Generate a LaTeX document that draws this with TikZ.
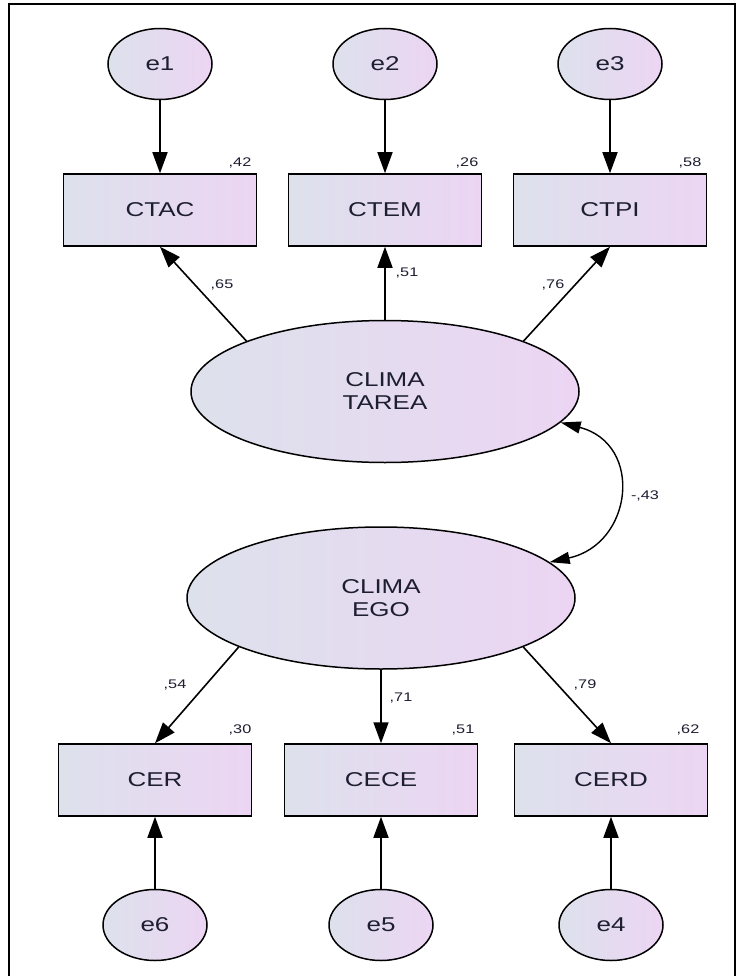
\documentclass[tikz,border=0pt]{standalone}
\usepackage{fontspec}
\setmainfont{Liberation Sans}
\usetikzlibrary{arrows.meta,shapes.geometric}
\definecolor{fillL}{RGB}{221,225,236}
\definecolor{fillR}{RGB}{236,213,243}
\definecolor{txt}{RGB}{30,30,50}
\newcommand{\sx}[1]{\scalebox{1.3}[1]{#1}}
\begin{document}
\begin{tikzpicture}[x=1pt,y=-1pt,
  base/.style={draw=black, line width=1.5pt, left color=fillL, right color=fillR, inner sep=0pt, text=txt, font=\fontsize{20}{23}\selectfont},
  errnode/.style={base, ellipse, minimum width=104pt, minimum height=71pt},
  obsbox/.style={base, rectangle, minimum width=193pt, minimum height=72pt},
  latent/.style={base, ellipse, minimum width=388pt, minimum height=142pt, align=center},
  conn/.style={line width=1.6pt, -{Triangle[length=21pt,width=15pt]}},
  cov/.style={line width=1.4pt, {Triangle[length=20pt,width=12pt]}-{Triangle[length=20pt,width=12pt]}},
  lab/.style={font=\fontsize{12.5}{14}\selectfont, text=txt, inner sep=1pt}
]
\useasboundingbox (0,0) rectangle (739,976);
\fill[white] (0,0) rectangle (739,976);
\draw[line width=2.2pt] (9,980) -- (9,4) -- (735,4) -- (735,980);

% error terms top
\node[errnode] (e1) at (160,64) {\sx{e1}};
\node[errnode] (e2) at (385,64) {\sx{e2}};
\node[errnode] (e3) at (610,64) {\sx{e3}};
% observed top
\node[obsbox] (ctac) at (160,210) {\sx{CTAC}};
\node[obsbox] (ctem) at (385,210) {\sx{CTEM}};
\node[obsbox] (ctpi) at (610,210) {\sx{CTPI}};
% latents
\node[latent] (tarea) at (385,391.5) {\sx{CLIMA}\\\sx{TAREA}};
\node[latent] (ego) at (381,598) {\sx{CLIMA}\\\sx{EGO}};
% observed bottom
\node[obsbox] (cer) at (155,780) {\sx{CER}};
\node[obsbox] (cece) at (381,780) {\sx{CECE}};
\node[obsbox] (cerd) at (611,780) {\sx{CERD}};
% error terms bottom
\node[errnode] (e6) at (155,925) {\sx{e6}};
\node[errnode] (e5) at (381,925) {\sx{e5}};
\node[errnode] (e4) at (611,925) {\sx{e4}};

% arrows errors -> indicators
\draw[conn] (e1) -- (ctac);
\draw[conn] (e2) -- (ctem);
\draw[conn] (e3) -- (ctpi);
\draw[conn] (e6) -- (cer);
\draw[conn] (e5) -- (cece);
\draw[conn] (e4) -- (cerd);

% loadings
\draw[conn] (tarea.160) -- (ctac.south);
\draw[conn] (tarea.north) -- (ctem.south);
\draw[conn] (tarea.20) -- (ctpi.south);
\draw[conn] (ego.-161) -- (cer.north);
\draw[conn] (ego.south) -- (cece.north);
\draw[conn] (ego.-19) -- (cerd.north);

% covariance
\draw[cov] (tarea.-10) .. controls (644,444) and (633,544) .. (ego.12);

% labels
\node[lab] (r1) at (240,163) {\sx{,42}};
\node[lab] (r2) at (467,163) {\sx{,26}};
\node[lab] (r3) at (690,163) {\sx{,58}};
\node[lab] (l1) at (222,285) {\sx{,65}};
\node[lab] (l2) at (407,273) {\sx{,51}};
\node[lab] (l3) at (553,285) {\sx{,76}};
\node[lab] (c1) at (645,496) {\sx{-,43}};
\node[lab] (l4) at (175,685) {\sx{,54}};
\node[lab] (l5) at (401,698) {\sx{,71}};
\node[lab] (l6) at (585,685) {\sx{,79}};
\node[lab] (r6) at (240,730) {\sx{,30}};
\node[lab] (r5) at (463,730) {\sx{,51}};
\node[lab] (r4) at (688,730) {\sx{,62}};
\end{tikzpicture}
\end{document}
